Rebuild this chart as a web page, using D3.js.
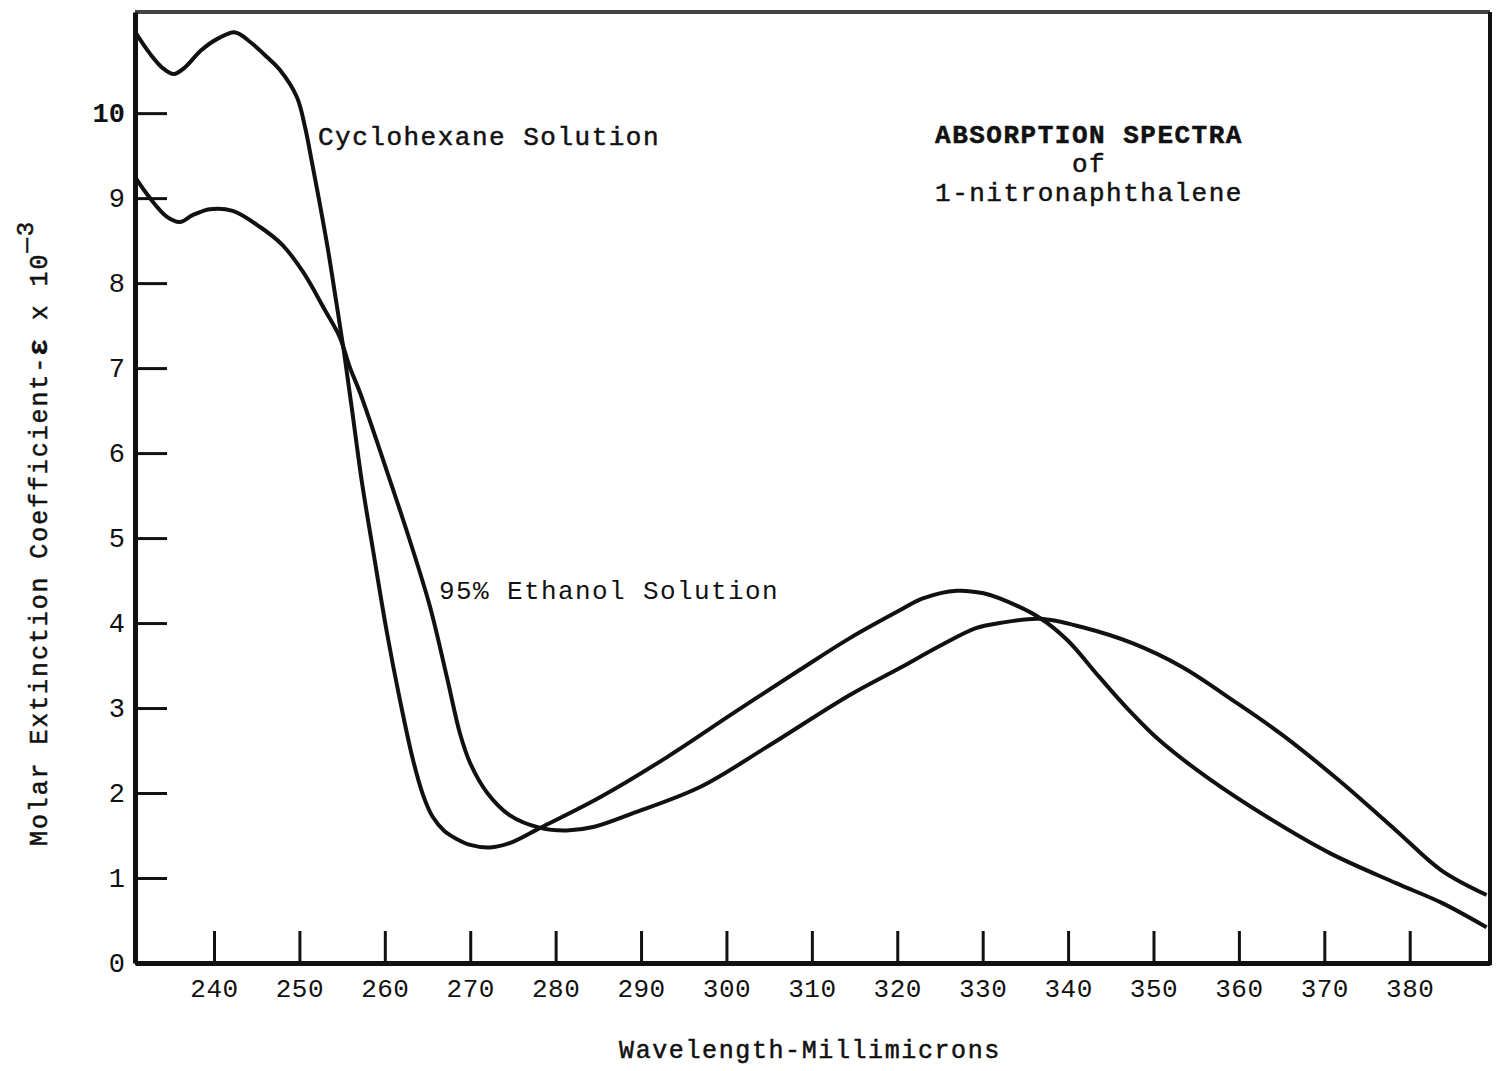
<!DOCTYPE html>
<html>
<head>
<meta charset="utf-8">
<script src="https://cdn.jsdelivr.net/npm/d3@7"></script>
<style>
  body { margin: 0; background: #fff; }
  text { font-family: "Liberation Mono", "DejaVu Sans Mono", monospace; fill: #111; }
  .ink { stroke: #111; stroke-width: 0.5; }
</style>
</head>
<body>
<svg id="chart" width="1500" height="1071"></svg>
<script>
// Absorption spectra of 1-nitronaphthalene.
// eps is the molar extinction coefficient x 10^-3.

const wavelengthTicks = [240, 250, 260, 270, 280, 290, 300, 310, 320, 330, 340, 350, 360, 370, 380];
const epsTicks = [0, 1, 2, 3, 4, 5, 6, 7, 8, 9, 10];

// [wavelength nm, eps]
const cyclohexane = [
  [230.8, 10.95], [232.5, 10.70], [234.0, 10.53], [235.3, 10.46], [236.5, 10.53],
  [238.5, 10.74], [240.5, 10.88], [242.5, 10.95], [244.2, 10.84], [246.2, 10.66],
  [247.7, 10.51], [249.7, 10.19], [250.65, 9.84], [251.47, 9.42], [252.41, 8.92],
  [253.35, 8.39], [254.28, 7.80], [255.22, 7.19], [256.16, 6.51], [257.33, 5.65],
  [258.62, 4.86], [260.26, 3.88], [261.78, 3.09], [263.3, 2.39], [264.5, 1.97],
  [265.6, 1.72], [267.0, 1.55], [268.4, 1.46], [270.0, 1.39], [272.3, 1.36],
  [274.6, 1.41], [278.2, 1.59], [285.2, 1.95], [293.0, 2.42], [300.8, 2.94],
  [308.6, 3.45], [314.4, 3.82], [320.3, 4.15], [323.0, 4.29], [327.0, 4.38],
  [330.1, 4.35], [332.0, 4.29], [336.7, 4.06], [339.9, 3.80], [343.7, 3.36],
  [346.9, 3.00], [350.7, 2.62], [356.2, 2.19], [363.6, 1.70], [370.7, 1.29],
  [378.4, 0.94], [383.7, 0.71], [389.0, 0.42]
];

const ethanol = [
  [230.8, 9.24], [232.5, 9.00], [234.5, 8.78], [236.0, 8.72], [237.5, 8.80],
  [239.5, 8.87], [242.2, 8.85], [245.4, 8.66], [248.0, 8.45], [250.5, 8.12],
  [253.0, 7.68], [254.7, 7.37], [255.9, 7.01], [257.1, 6.71], [259.8, 5.92],
  [262.9, 4.98], [265.3, 4.19], [267.3, 3.35], [268.8, 2.70], [270.0, 2.35],
  [272.0, 2.00], [274.6, 1.74], [278.2, 1.59], [281.3, 1.56], [284.4, 1.60],
  [289.0, 1.76], [296.9, 2.07], [304.7, 2.54], [314.4, 3.15], [320.3, 3.47],
  [324.8, 3.72], [329.2, 3.94], [332.0, 4.00], [336.7, 4.05], [341.7, 3.95],
  [347.6, 3.76], [353.4, 3.48], [359.3, 3.09], [365.0, 2.69], [371.7, 2.15],
  [378.4, 1.56], [383.7, 1.09], [389.0, 0.80]
];

const titleLines = ["ABSORPTION SPECTRA", "of", "1-nitronaphthalene"];

const plotLeft = 135, plotRight = 1490, plotTop = 12, plotBottom = 963;

const svg = d3.select("#chart");

const x = d3.scaleLinear().domain([230.75, 389.4]).range([plotLeft, plotRight]);
const y = d3.scaleLinear().domain([0, 11.19]).range([plotBottom, plotTop]);

// frame: top edge is faint/grainy on the original
svg.append("line")
  .attr("x1", plotLeft).attr("x2", plotRight).attr("y1", plotTop).attr("y2", plotTop)
  .attr("stroke", "#444").attr("stroke-width", 4);
svg.append("line")
  .attr("x1", plotRight).attr("x2", plotRight).attr("y1", plotTop).attr("y2", plotBottom + 2)
  .attr("stroke", "#111").attr("stroke-width", 4);

const xAxis = svg.append("g")
  .attr("transform", `translate(0,${plotBottom})`)
  .call(d3.axisBottom(x).tickValues(wavelengthTicks).tickSize(-32).tickPadding(16).tickSizeOuter(0));
xAxis.select(".domain").attr("stroke", "#111").attr("stroke-width", 5);
xAxis.selectAll(".tick line").attr("stroke", "#111").attr("stroke-width", 3);
xAxis.selectAll(".tick text")
  .attr("font-size", 26).attr("letter-spacing", 0.5)
  .attr("font-family", "'Liberation Mono', monospace")
  .attr("fill", "#111");

const yAxis = svg.append("g")
  .attr("transform", `translate(${plotLeft},0)`)
  .call(d3.axisLeft(y).tickValues(epsTicks).tickSize(-32).tickPadding(10).tickSizeOuter(0));
yAxis.select(".domain").attr("stroke", "#111").attr("stroke-width", 5);
yAxis.selectAll(".tick line").attr("stroke", "#111").attr("stroke-width", 3);
yAxis.selectAll(".tick text")
  .attr("font-size", 27)
  .attr("font-family", "'Liberation Mono', monospace")
  .attr("font-weight", (d) => d === 10 ? "bold" : "normal")
  .attr("fill", "#111");

const line = d3.line()
  .curve(d3.curveCatmullRom.alpha(0.5))
  .x((d) => x(d[0]))
  .y((d) => y(d[1]));

svg.append("path").datum(ethanol)
  .attr("d", line).attr("fill", "none")
  .attr("stroke", "#111").attr("stroke-width", 4).attr("stroke-linejoin", "round");
svg.append("path").datum(cyclohexane)
  .attr("d", line).attr("fill", "none")
  .attr("stroke", "#111").attr("stroke-width", 4).attr("stroke-linejoin", "round");

// curve labels
svg.append("text").attr("class", "ink")
  .attr("x", 318).attr("y", 145)
  .attr("font-size", 26).attr("letter-spacing", 1.5)
  .text("Cyclohexane Solution");

svg.append("text")
  .attr("x", 439).attr("y", 599)
  .attr("font-size", 26).attr("letter-spacing", 1.4)
  .text("95% Ethanol Solution");

// title block
svg.append("g").selectAll("text")
  .data(titleLines)
  .join("text")
  .attr("class", "ink")
  .attr("x", 1089)
  .attr("y", (d, i) => 143 + i * 29)
  .attr("text-anchor", "middle")
  .attr("font-size", 26)
  .attr("letter-spacing", 1.5)
  .attr("font-weight", (d, i) => i === 0 ? "bold" : "normal")
  .text((d) => d);

// axis titles
svg.append("text").attr("class", "ink")
  .attr("x", 810).attr("y", 1058)
  .attr("text-anchor", "middle")
  .attr("font-size", 25).attr("letter-spacing", 1.6)
  .text("Wavelength-Millimicrons");

const yTitle = svg.append("text").attr("class", "ink")
  .attr("transform", "translate(47,846) rotate(-90)")
  .attr("font-size", 25).attr("letter-spacing", 1.9);
yTitle.append("tspan").text("Molar Extinction Coefficient-");
yTitle.append("tspan").attr("font-weight", "bold").attr("font-size", 28).text("\u03b5");
yTitle.append("tspan").text(" x 10");
yTitle.append("tspan").attr("dy", -14).attr("font-size", 24).text("\u20143");
</script>
</body>
</html>
